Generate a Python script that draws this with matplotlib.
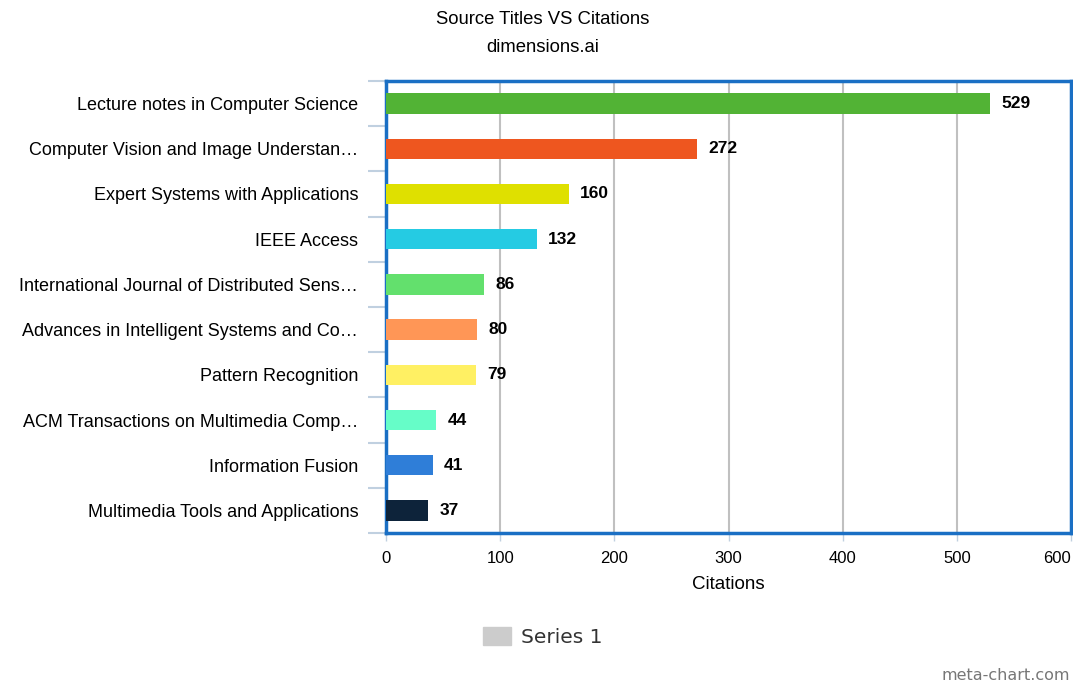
import numpy as np
import matplotlib.pyplot as plt
from matplotlib.patches import Patch

plt.rcParams['font.family'] = ['Liberation Sans', 'DejaVu Sans']

titles = ['Lecture notes in Computer Science',
          'Computer Vision and Image Understan\u2026',
          'Expert Systems with Applications',
          'IEEE Access',
          'International Journal of Distributed Sens\u2026',
          'Advances in Intelligent Systems and Co\u2026',
          'Pattern Recognition',
          'ACM Transactions on Multimedia Comp\u2026',
          'Information Fusion',
          'Multimedia Tools and Applications']
citations = [529, 272, 160, 132, 86, 80, 79, 44, 41, 37]
colors = ['#52b335', '#ee561f', '#dfe000', '#25cbe3', '#63e06d',
          '#ff9656', '#fff063', '#66fdc8', '#2f7ed8', '#0d233a']

fig = plt.figure(figsize=(10.73, 6.84), dpi=100)
ax = fig.add_axes([386/1073, 1-533/684, 685/1073, 452/684])

ypos = np.arange(len(titles))
ax.barh(ypos, citations, height=0.45, color=colors, zorder=3)
for y, v in zip(ypos, citations):
    ax.text(v + 10, y, str(v), va='center', ha='left', fontsize=12.5,
            fontweight='bold', color='black', zorder=4)

ax.set_ylim(len(titles) - 0.5, -0.5)
ax.set_xlim(0, 600)
ax.set_xticks(np.arange(0, 601, 100))
ax.set_yticks(ypos)
ax.set_yticklabels(titles, fontsize=13)
ax.set_yticks(np.arange(-0.5, len(titles), 1), minor=True)
ax.tick_params(axis='y', which='major', length=0, pad=20)
ax.tick_params(axis='y', which='minor', length=13, width=1.5, color='#c0d0e0')
ax.tick_params(axis='x', length=6, width=1, color='#c0d0e0', labelsize=12, pad=7)
ax.get_xticklabels()[-1].set_horizontalalignment('right')
ax.get_xticklabels()[-1].set_x(600)
ax.xaxis.grid(True, color='#c0c0c0', linewidth=1.5, zorder=0)
for s in ax.spines.values():
    s.set_color('#1a6fc4')
    s.set_linewidth(2.5)
ax.set_xlabel('Citations', fontsize=13.5, labelpad=7)

fig.text(0.506, 1-20/684, 'Source Titles VS Citations', ha='center', va='center', fontsize=13.3)
fig.text(0.506, 1-48/684, 'dimensions.ai', ha='center', va='center', fontsize=13.3)

leg = fig.legend(handles=[Patch(color='#cccccc', label='Series 1')],
                 loc='center', bbox_to_anchor=(0.506, 1-637/684), frameon=False,
                 handlelength=1.4, handleheight=1.0, handletextpad=0.5,
                 prop={'family': 'DejaVu Sans', 'size': 14.5})
for t in leg.get_texts():
    t.set_color('#333333')

fig.text(0.997, 1-675/684, 'meta-chart.com', ha='right', va='center',
         fontsize=11.5, color='#777777', family='DejaVu Sans')

plt.savefig('out.png', dpi=100)
